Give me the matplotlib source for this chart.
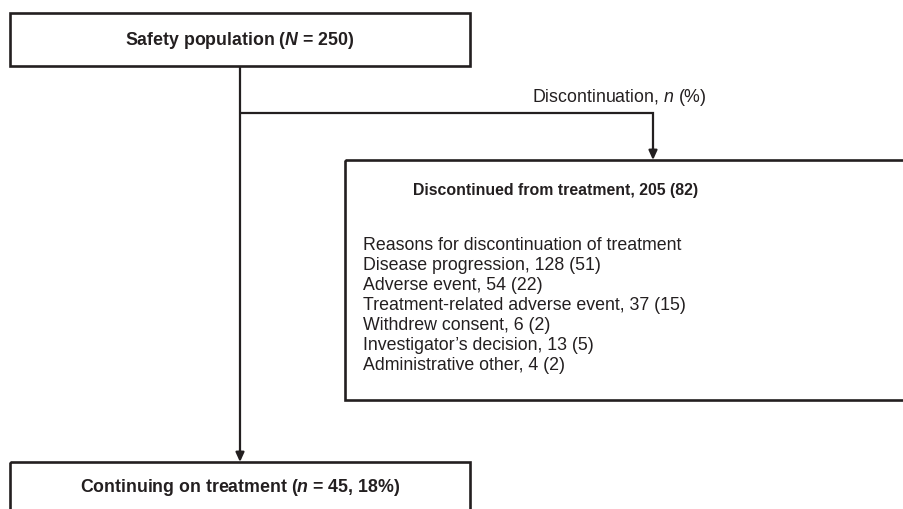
import matplotlib.pyplot as plt
from matplotlib.patches import Rectangle

plt.rcParams["font.family"] = ["Liberation Sans", "DejaVu Sans"]
plt.rcParams["mathtext.fontset"] = "custom"
plt.rcParams["mathtext.rm"] = "Liberation Sans"
plt.rcParams["mathtext.it"] = "Liberation Sans:italic"
plt.rcParams["mathtext.bf"] = "Liberation Sans:bold"
plt.rcParams["mathtext.bfit"] = "Liberation Sans:bold:italic"

# data
total_n = 250
discontinued_n = 205
discontinued_pct = 82
continuing_n = 45
continuing_pct = 18
reasons = [
    "Disease progression",
    "Adverse event",
    "Treatment-related adverse event",
    "Withdrew consent",
    "Investigator\u2019s decision",
    "Administrative other",
]
reason_n = [128, 54, 37, 6, 13, 4]
reason_pct = [51, 22, 15, 2, 5, 2]

fig = plt.figure(figsize=(9.04, 5.09), dpi=100)
ax = fig.add_axes([0, 0, 1, 1])
ax.set_xlim(0, 904)
ax.set_ylim(509, 0)
ax.axis("off")

lc = "#231f20"
lw = 1.6
box_lw = 1.9
fs = 12.8

# boxes
ax.add_patch(Rectangle((10, 13), 460, 53, fill=False, ec=lc, lw=box_lw))
ax.add_patch(Rectangle((345, 160), 600, 240, fill=False, ec=lc, lw=box_lw))
ax.add_patch(Rectangle((10, 462), 460, 60, fill=False, ec=lc, lw=box_lw, clip_on=False))

# connectors
arrow = dict(arrowstyle="-|>,head_length=0.55,head_width=0.25",
             color=lc, lw=lw, shrinkA=0, shrinkB=0)
ax.plot([240, 240], [66, 455], color=lc, lw=lw, solid_capstyle="butt")
ax.annotate("", xy=(240, 462), xytext=(240, 450), arrowprops=arrow)
ax.plot([240, 653, 653], [113, 113, 153], color=lc, lw=lw,
        solid_joinstyle="miter", solid_capstyle="butt")
ax.annotate("", xy=(653, 160), xytext=(653, 148), arrowprops=arrow)

# texts
ax.text(240, 40, r"Safety population ($\mathbfit{N}$ = %d)" % total_n,
        ha="center", va="center", fontsize=fs, fontweight="bold", color=lc)
ax.text(619, 97, r"Discontinuation, $\mathit{n}$ (%)", ha="center",
        va="center", fontsize=fs, color=lc)
ax.text(413, 190, "Discontinued from treatment, %d (%d)" % (discontinued_n, discontinued_pct),
        ha="left", va="center", fontsize=11.4, fontweight="bold", color=lc)

lines = ["Reasons for discontinuation of treatment"]
lines += ["%s, %d (%d)" % (r, n, p) for r, n, p in zip(reasons, reason_n, reason_pct)]
for i, s in enumerate(lines):
    ax.text(363, 245 + 20 * i, s, ha="left", va="center", fontsize=fs, color=lc)

ax.text(240, 488, r"Continuing on treatment ($\mathbfit{n}$ = %d, %d%%)" % (continuing_n, continuing_pct),
        ha="center", va="center", fontsize=fs, fontweight="bold", color=lc)

fig.savefig("out.png", dpi=100)
